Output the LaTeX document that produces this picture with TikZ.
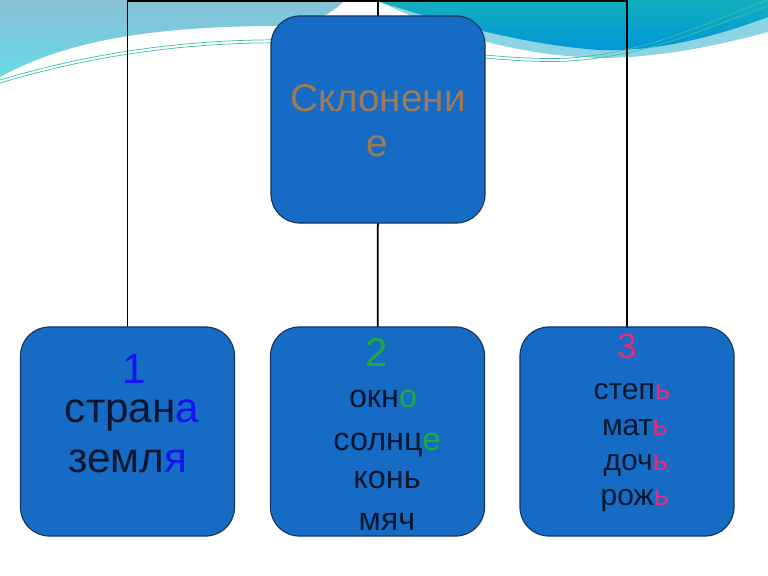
\documentclass[tikz,border=0pt]{standalone}
\usepackage{fontspec}
\setmainfont{Liberation Sans}
\usepackage{tikz}
\definecolor{boxfill}{RGB}{22,108,196}
\definecolor{boxline}{RGB}{24,52,96}
\definecolor{ttlbrown}{RGB}{160,122,84}
\definecolor{worddark}{RGB}{8,22,48}
\definecolor{numblue}{RGB}{20,20,240}
\definecolor{numgreen}{RGB}{30,170,60}
\definecolor{nummag}{RGB}{226,44,124}
\definecolor{skytop}{RGB}{135,192,214}
\definecolor{skybot}{RGB}{105,218,232}
\definecolor{tealtop}{RGB}{18,176,190}
\definecolor{tealbot}{RGB}{0,150,216}
\definecolor{bandcyan}{RGB}{140,212,228}
\definecolor{thingreen}{RGB}{60,192,170}
\tikzset{
  klbox/.style={draw=boxline, line width=0.8pt, fill=boxfill, rounded corners=0.72cm,
    minimum width=5.35cm, minimum height=5.225cm, inner sep=0pt},
  frame/.style={line width=1.3pt, color=black},
  word/.style={anchor=base, inner sep=0pt, text=worddark},
  ttl/.style={font=\fontsize{27.5}{33}\selectfont, text=ttlbrown},
  num/.style={font=\fontsize{30}{36}\selectfont},
  wbig/.style={font=\fontsize{30}{36}\selectfont},
  wmid/.style={font=\fontsize{23}{28}\selectfont},
  wsmall/.style={font=\fontsize{21.3}{26}\selectfont}
}

\begin{document}
\begin{tikzpicture}[x=0.025cm, y=-0.025cm]
\useasboundingbox (0,0) rectangle (768,576);
%BACKGROUND WAVES
\shade[top color=skytop, bottom color=skybot] (0,0) -- (345,0)
  .. controls (335,10) and (320,25) .. (270,26)
  .. controls (120,27) and (50,50) .. (0,77) -- cycle;
\fill[bandcyan] (380,0) -- (380,2) .. controls (430,25) and (500,55) .. (600,58)
  .. controls (660,58) and (720,45) .. (768,32) -- (768,0) -- cycle;
\shade[top color=tealtop, bottom color=tealbot] (380,0) -- (380,2)
  .. controls (430,18) and (520,45) .. (600,50)
  .. controls (660,52) and (720,35) .. (768,17) -- (768,0) -- cycle;
\draw[thingreen, line width=0.5pt] (0,80) .. controls (100,50) and (200,38) .. (300,40)
  .. controls (400,42) and (500,62) .. (570,58) .. controls (650,52) and (700,25) .. (768,0);
\draw[thingreen, line width=0.5pt] (0,83) .. controls (100,53) and (200,41) .. (300,43)
  .. controls (400,45) and (500,65) .. (570,61) .. controls (650,55) and (700,30) .. (768,6);
%FRAME LINES
\coordinate (tl) at (127.5,1);
\coordinate (tm) at (378,1);
\coordinate (tr) at (627,1);
\draw[frame] (127.5,431.5) -- (tl) -- (tr) -- (627,431.5);
\draw[frame] (tm) -- (378,119.5);
\draw[frame] (378,119.5) -- (377.5,431.5);
%BOXES
\node[klbox, minimum height=5.175cm] (skl) at (378,119.5) {};
\node[klbox] (d1) at (127.5,431.5) {};
\node[klbox] (d2) at (377.5,431.5) {};
\node[klbox] (d3) at (627,431.5) {};
%Title
\node[word, ttl] (skl1) at (378,112) {Склонени};
\node[word, ttl] (skl2) at (377,157) {е};
%first declension
\node[word, num, text=numblue] (n1) at (134,383) {1};
\node[word, wbig] (w11) at (132,422) {стран\textcolor{numblue}{а}};
\node[word, wbig] (w12) at (128,472) {земл\textcolor{numblue}{я}};
%second declension
\node[word, num, text=numgreen, font=\fontsize{28.5}{34}\selectfont] (n2) at (377,366) {2};
\node[word, wmid] (w21) at (383,407) {окн\textcolor{numgreen}{о}};
\node[word, wmid] (w22) at (387,450) {солнц\textcolor{numgreen}{е}};
\node[word, wmid] (w23) at (387,488) {конь};
\node[word, wmid] (w24) at (387,530) {мяч};
%third declension
\node[word, num, text=nummag, font=\fontsize{25}{30}\selectfont] (n3) at (627,359) {3};
\node[word, wsmall] (w31) at (632,399) {степ\textcolor{nummag}{ь}};
\node[word, wsmall] (w32) at (635,435) {мат\textcolor{nummag}{ь}};
\node[word, wsmall] (w33) at (636,470) {доч\textcolor{nummag}{ь}};
\node[word, wsmall] (w34) at (635,505) {рож\textcolor{nummag}{ь}};
\end{tikzpicture}
\end{document}
